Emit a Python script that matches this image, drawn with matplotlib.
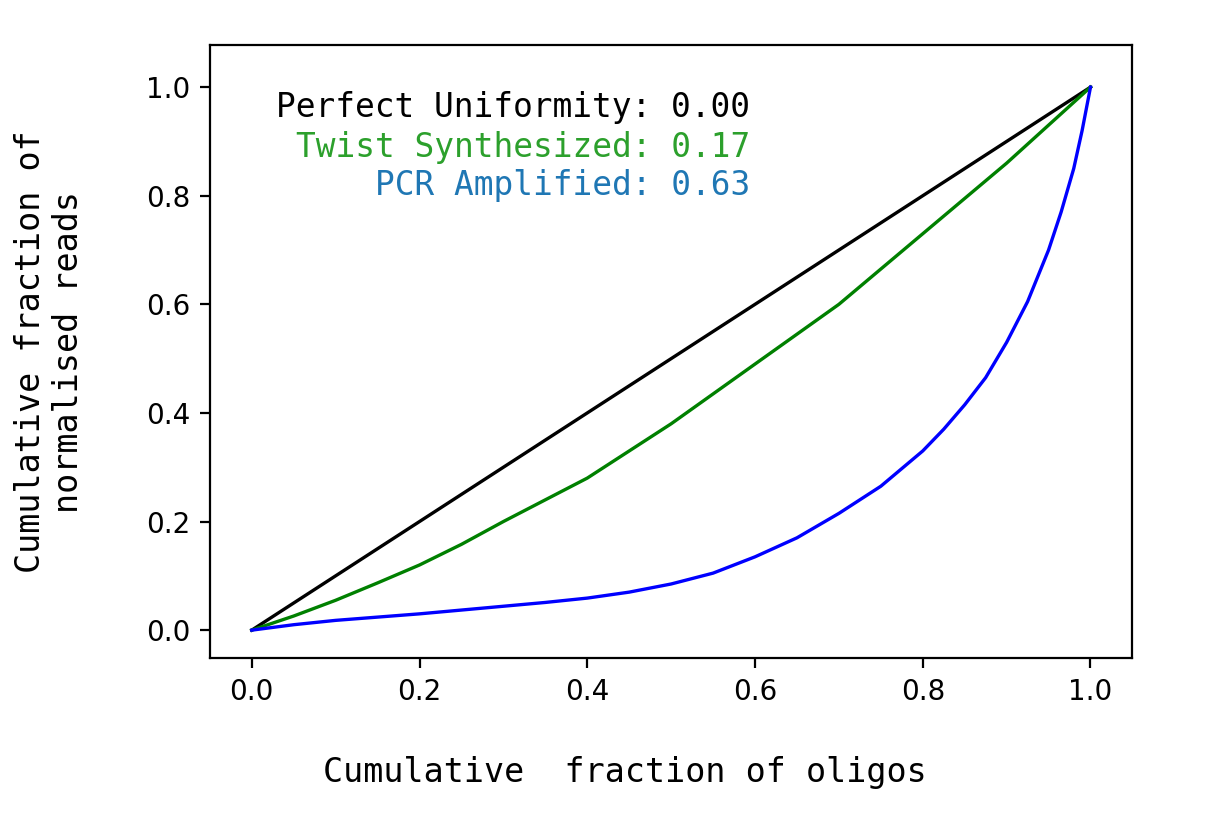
import matplotlib
matplotlib.use("Agg")
import matplotlib.pyplot as plt

perfect_x = [0.0, 1.0]
perfect_y = [0.0, 1.0]
twist_x = [0.0, 0.05, 0.1, 0.15, 0.2, 0.25, 0.3, 0.35, 0.4, 0.45, 0.5, 0.55, 0.6, 0.65, 0.7, 0.75, 0.8, 0.85, 0.9, 0.95, 1.0]
twist_y = [0.0, 0.026, 0.055, 0.087, 0.12, 0.158, 0.20, 0.24, 0.28, 0.33, 0.38, 0.435, 0.49, 0.545, 0.60, 0.665, 0.73, 0.795, 0.86, 0.93, 1.0]
pcr_x = [0.0, 0.05, 0.1, 0.15, 0.2, 0.25, 0.3, 0.35, 0.4, 0.45, 0.5, 0.55, 0.6, 0.65, 0.7, 0.75, 0.8, 0.825, 0.85, 0.875, 0.9, 0.925, 0.95, 0.965, 0.98, 0.99, 1.0]
pcr_y = [0.0, 0.01, 0.018, 0.024, 0.03, 0.037, 0.044, 0.051, 0.059, 0.07, 0.085, 0.105, 0.135, 0.17, 0.215, 0.265, 0.33, 0.37, 0.415, 0.465, 0.53, 0.605, 0.70, 0.77, 0.85, 0.92, 1.0]
labels = ["Perfect Uniformity: 0.00", "Twist Synthesized: 0.17", "PCR Amplified: 0.63"]
label_colors = ["black", "#2ca02c", "#1f77b4"]

fig = plt.figure(figsize=(6.03, 4.12), dpi=200)
ax = fig.add_axes([0.174, 0.201, 0.765, 0.744])
ax.plot(perfect_x, perfect_y, color="black", lw=1.2)
ax.plot(twist_x, twist_y, color="green", lw=1.2)
ax.plot(pcr_x, pcr_y, color="blue", lw=1.2)
ax.set_xlim(-0.05, 1.05)
ax.set_ylim(-0.052, 1.077)
ax.set_xticks([0, 0.2, 0.4, 0.6, 0.8, 1.0])
ax.set_yticks([0, 0.2, 0.4, 0.6, 0.8, 1.0])
ax.tick_params(labelsize=10)
for t, c, y in zip(labels, label_colors, [0.963, 0.888, 0.818]):
    ax.text(0.594, y, t, color=c, ha="right", va="center", family="DejaVu Sans Mono", fontsize=11.8)
ax.set_xlabel("Cumulative  fraction of oligos", family="DejaVu Sans Mono", fontsize=12, labelpad=18)
ax.xaxis.set_label_coords(0.45, -0.16)
ax.set_ylabel("Cumulative fraction of\nnormalised reads", family="DejaVu Sans Mono", fontsize=12, labelpad=14)
ax.yaxis.set_label_coords(-0.135, 0.5)
fig.savefig("out.png", dpi=200)
